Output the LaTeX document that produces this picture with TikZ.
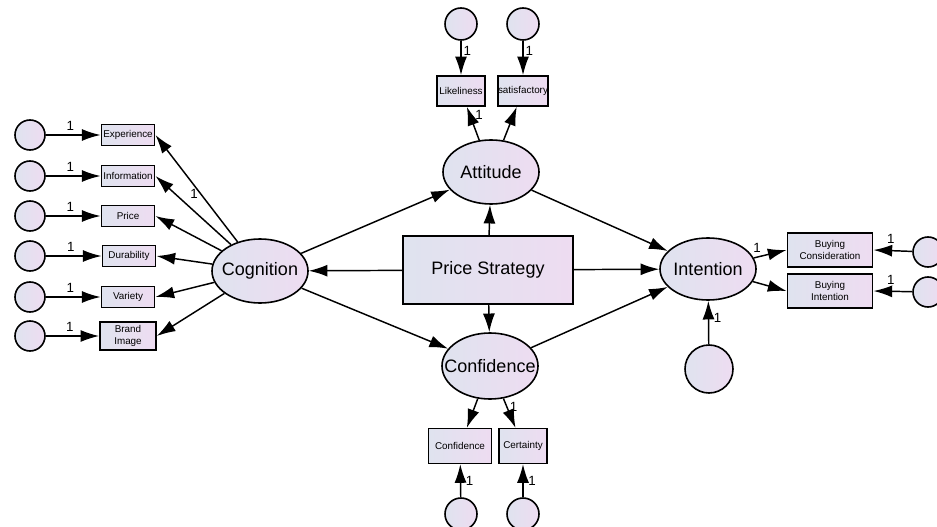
\documentclass[tikz,border=0pt]{standalone}
\usepackage{fontspec}
\setmainfont{Liberation Sans}
\usepackage{tikz}
\usetikzlibrary{arrows.meta,shapes.geometric}
\definecolor{AmosLeft}{HTML}{DFE3EF}
\definecolor{AmosRight}{HTML}{EEDCF1}
\newcommand\fixw[1]{\makebox[0pt]{#1}}

\begin{document}
\begin{tikzpicture}[x=0.75pt,y=-0.75pt,
    shade box/.style={draw,line width=1.2pt,left color=AmosLeft,right color=AmosRight,inner sep=0pt},
    latent/.style={shade box,ellipse,minimum width=72pt,minimum height=48pt,font=\fontsize{13.5}{15}\selectfont},
    obs/.style={shade box,rectangle,minimum width=40pt,minimum height=16pt,align=center,font=\fontsize{7.4}{8.6}\selectfont},
    err/.style={shade box,circle,minimum size=22.5pt},
    path/.style={-{Latex[length=14pt,width=9pt]},line width=1.1pt},
    one/.style={font=\fontsize{10}{10}\selectfont,inner sep=1.5pt}]
  \useasboundingbox (0,0) rectangle (937,527);

  % latent variables and the exogenous box
  \node[latent] (cog) at (260,271) {\fixw{Cognition}};
  \node[latent] (att) at (491,172) {\fixw{Attitude}};
  \node[latent,minimum height=49.5pt] (conf) at (490,366) {\fixw{Confidence}};
  \node[latent,minimum height=46.5pt] (int) at (708,269) {\fixw{Intention}};
  \node[shade box,rectangle,minimum width=127.5pt,minimum height=51pt,font=\fontsize{13.5}{15}\selectfont] (ps) at (488,270) {Price Strategy};

  % cognition indicators
  \node[obs] (exp) at (128,135) {Experience};
  \node[obs] (inf) at (128,176) {Information};
  \node[obs] (pri) at (128,216) {Price};
  \node[obs] (dur) at (129,256) {Durability};
  \node[obs] (var) at (128,297) {Variety};
  \node[obs,minimum width=42pt,minimum height=21pt] (bra) at (128,336) {Brand\\Image};
  \node[err] (e1) at (30,135) {};
  \node[err] (e2) at (30,176) {};
  \node[err] (e3) at (30,216) {};
  \node[err] (e4) at (30,256) {};
  \node[err] (e5) at (30,297) {};
  \node[err] (e6) at (30,336) {};

  % attitude indicators
  \node[obs,minimum width=36pt,minimum height=22.5pt] (lik) at (461,91) {Likeliness};
  \node[obs,minimum width=36pt,minimum height=22.5pt] (sat) at (523,91) {satisfactory};
  \node[err,minimum size=24pt] (e7) at (461,24) {};
  \node[err,minimum size=24pt] (e8) at (523,24) {};

  % confidence indicators
  \node[obs,minimum width=47pt,minimum height=26pt] (cbox) at (460,446) {Confidence};
  \node[obs,minimum width=36pt,minimum height=26pt] (cer) at (523,446) {Certainty};
  \node[err,minimum size=24pt] (e9) at (461,514) {};
  \node[err,minimum size=24pt] (e10) at (523,514) {};

  % intention indicators
  \node[obs,minimum width=64pt,minimum height=25.5pt] (bc) at (830,250) {Buying\\Consideration};
  \node[obs,minimum width=64pt,minimum height=25.5pt] (bi) at (830,291) {Buying\\Intention};
  \node[err] (e11) at (928,252) {};
  \node[err] (e12) at (928,292) {};
  \node[err,minimum size=36pt] (e13) at (709,369) {};

  % structural paths
  \draw[path] (ps) -- (cog);
  \draw[path] (ps) -- (att);
  \draw[path] (ps) -- (conf);
  \draw[path] (ps) -- (int);
  \draw[path] (cog) -- (att);
  \draw[path] (cog) -- (conf);
  \draw[path] (att) -- (int);
  \draw[path] (conf) -- (int);

  % measurement paths
  \draw[path] (cog) -- (exp.east) node[one,pos=0.45,left] {1};
  \draw[path] (cog) -- (inf.east);
  \draw[path] (cog) -- (pri.east);
  \draw[path] (cog) -- (dur.east);
  \draw[path] (cog) -- (var.east);
  \draw[path] (cog) -- (bra.east);
  \foreach \e/\b in {e1/exp,e2/inf,e3/pri,e4/dur,e5/var,e6/bra}
    \draw[path] (\e) -- (\b) node[one,pos=0.45,above=1pt] {1};

  \draw[path] (att) -- (lik) node[one,pos=0.75,right=2pt] {1};
  \draw[path] (att) -- (sat);
  \draw[path] (e7) -- (lik) node[one,pos=0.3,right] {1};
  \draw[path] (e8) -- (sat) node[one,pos=0.3,right] {1};

  \draw[path] (conf) -- (cbox);
  \draw[path] (conf) -- (cer) node[one,pos=0.3,right] {1};
  \draw[path] (e9) -- (cbox) node[one,pos=0.5,right=2pt] {1};
  \draw[path] (e10) -- (cer) node[one,pos=0.5,right=2pt] {1};

  \draw[path] (int) -- (bc.west) node[one,pos=0.3,above left] {1};
  \draw[path] (int) -- (bi.west);
  \draw[path] (e11) -- (bc.east) node[one,pos=0.55,above=3pt] {1};
  \draw[path] (e12) -- (bi.east) node[one,pos=0.55,above=3pt] {1};
  \draw[path] (e13) -- (int) node[one,pos=0.6,right=2pt] {1};
\end{tikzpicture}
\end{document}
